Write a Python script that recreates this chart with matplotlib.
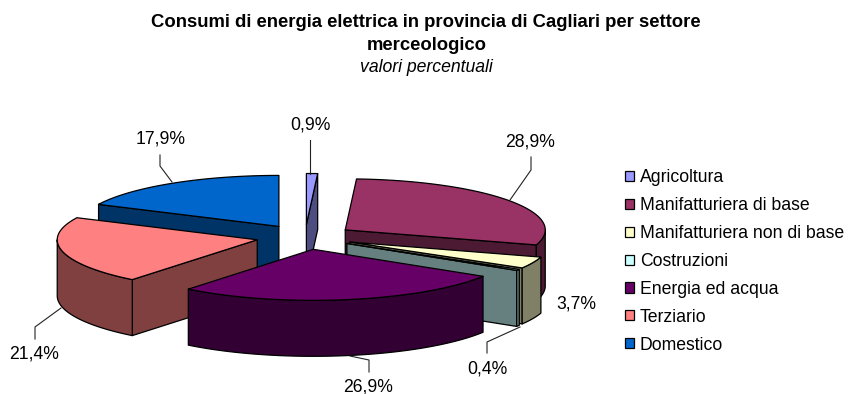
import numpy as np
import matplotlib
matplotlib.use("Agg")
import matplotlib.pyplot as plt
from matplotlib.patches import Polygon, Patch

plt.rcParams['font.family'] = ['Liberation Sans', 'DejaVu Sans']

categories = ["Agricoltura", "Manifatturiera di base", "Manifatturiera non di base",
              "Costruzioni", "Energia ed acqua", "Terziario", "Domestico"]
values = [0.9, 28.9, 3.7, 0.4, 26.9, 21.4, 17.9]
value_labels = ["0,9%", "28,9%", "3,7%", "0,4%", "26,9%", "21,4%", "17,9%"]
top_colors = ["#9999FF", "#993366", "#FFFFCC", "#CCFFFF", "#660066", "#FF8080", "#0066CC"]
side_colors = ["#4D4D80", "#4D1A33", "#808066", "#668080", "#330033", "#804040", "#003366"]

# pie geometry, in pixels of the reference
cx, cy = 305, 237
rx, ry = 200, 51
depth = 56
explode = 0.245

# back to front, so nearer slices cover the others
draw_order = [0, 6, 1, 2, 3, 5, 4]

# label position, then the leader line going from the slice to the label
label_pos = [(310, 125), (530, 142), (576, 304), (487, 369), (368, 387), (34, 354), (161, 139)]
leaders = [
    [(310, 174), (310, 140)],
    [(510, 200), (531, 170), (531, 157)],
    None,
    [(520, 327), (487, 342), (487, 353)],
    [(350, 356), (369, 360), (369, 372)],
    [(61, 308), (35, 327), (35, 339)],
    [(172, 182), (160, 166), (160, 155)],
]


def rim(x0, y0, t0, t1):
    n = max(int(abs(t1 - t0) * 2), 2)
    t = np.radians(np.linspace(t0, t1, n))
    return x0 + rx * np.sin(t), y0 - ry * np.cos(t)


def draw_slice(ax, t0, t1, top, side):
    mid = np.radians((t0 + t1) / 2)
    x0 = cx + rx * explode * np.sin(mid)
    y0 = cy - ry * explode * np.cos(mid)
    style = dict(edgecolor="black", linewidth=0.9, joinstyle="round")

    # flat cut faces, only the ones turned to the viewer
    for t, normal in ((t0, t0 - 90), (t1, t1 + 90)):
        if np.cos(np.radians(normal)) < -1e-6:
            ex, ey = rim(x0, y0, t, t)
            pts = [(x0, y0), (ex[0], ey[0]), (ex[0], ey[0] + depth), (x0, y0 + depth)]
            ax.add_patch(Polygon(pts, facecolor=side, **style))

    # outer wall, front half of the ellipse only
    a, b = max(t0, 90), min(t1, 270)
    if a < b:
        ex, ey = rim(x0, y0, a, b)
        pts = list(zip(ex, ey)) + list(zip(ex[::-1], ey[::-1] + depth))
        ax.add_patch(Polygon(pts, facecolor=side, **style))

    ex, ey = rim(x0, y0, t0, t1)
    ax.add_patch(Polygon([(x0, y0)] + list(zip(ex, ey)), facecolor=top, **style))


fig = plt.figure(figsize=(8.48, 3.94), dpi=100)
ax = fig.add_axes([0, 0, 1, 1])
ax.set_xlim(0, 848)
ax.set_ylim(394, 0)
ax.axis("off")

edges = np.concatenate([[0], np.cumsum(values)]) / sum(values) * 360
for i in draw_order:
    draw_slice(ax, edges[i], edges[i + 1], top_colors[i], side_colors[i])

for i in range(len(values)):
    if leaders[i] is not None:
        xs, ys = zip(*leaders[i])
        ax.plot(xs, ys, color="#222222", linewidth=0.8)
    ax.text(label_pos[i][0], label_pos[i][1], value_labels[i], fontsize=12.7,
            ha="center", va="center", color="black")

ax.text(425.5, 22, "Consumi di energia elettrica in provincia di Cagliari per settore",
        fontsize=13.3, fontweight="bold", ha="center", va="center")
ax.text(426.5, 45.5, "merceologico", fontsize=13.3, fontweight="bold", ha="center", va="center")
ax.text(426.5, 67, "valori percentuali", fontsize=12.7, style="italic", ha="center", va="center")

handles = [Patch(facecolor=c, edgecolor="black", linewidth=0.9) for c in top_colors]
ax.legend(handles, categories, loc="upper left", bbox_to_anchor=(625 / 848, 1 - 169 / 394),
          frameon=False, fontsize=12.7, handlelength=0.5, handleheight=0.5,
          handletextpad=0.35, labelspacing=0.62, borderaxespad=0, borderpad=0)

fig.savefig("out.png", dpi=100)
